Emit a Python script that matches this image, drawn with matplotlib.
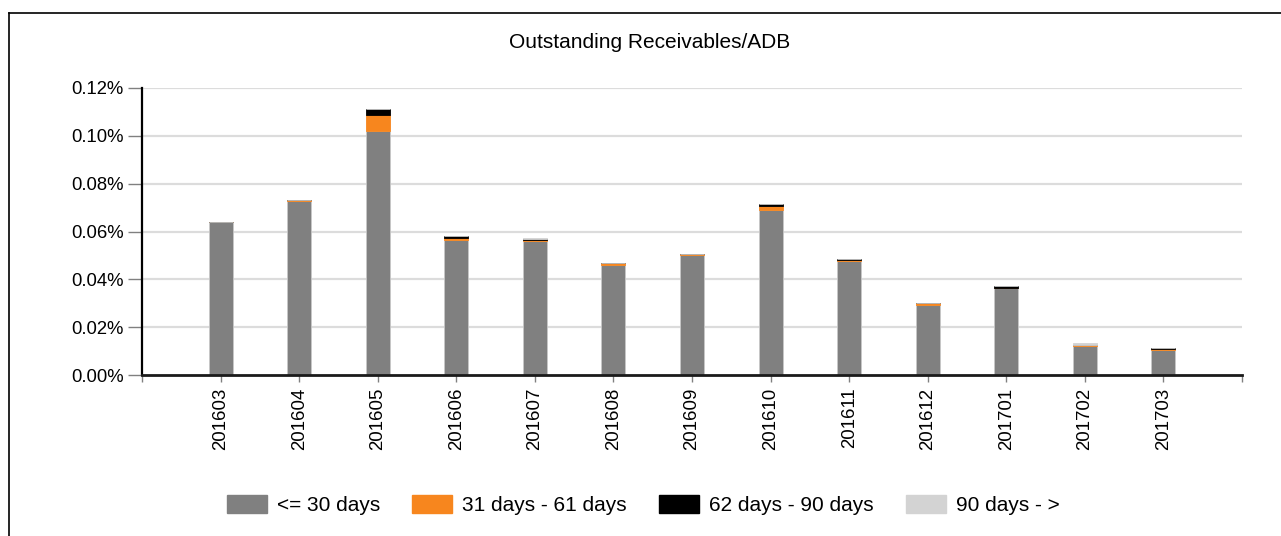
import matplotlib
matplotlib.use("Agg")
import matplotlib.pyplot as plt
from matplotlib.lines import Line2D
from matplotlib.patches import Patch
import numpy as np

plt.rcParams['font.family'] = ['Liberation Sans', 'DejaVu Sans']

months = ["201603", "201604", "201605", "201606", "201607", "201608", "201609",
          "201610", "201611", "201612", "201701", "201702", "201703"]
# values in percent
le30 = [0.0640, 0.0728, 0.1020, 0.0565, 0.0562, 0.0461, 0.0500, 0.0688, 0.0477, 0.0294, 0.0364, 0.0122, 0.0106]
d31_61 = [0.0000, 0.0004, 0.0067, 0.0008, 0.0004, 0.0006, 0.0004, 0.0020, 0.0005, 0.0007, 0.0000, 0.0003, 0.0002]
d62_90 = [0.0000, 0.0000, 0.0025, 0.0007, 0.0002, 0.0000, 0.0004, 0.0006, 0.0002, 0.0000, 0.0008, 0.0000, 0.0003]
d90p = [0.0000, 0.0000, 0.0000, 0.0000, 0.0003, 0.0000, 0.0000, 0.0000, 0.0000, 0.0000, 0.0000, 0.0007, 0.0000]
series_names = ["<= 30 days", "31 days - 61 days", "62 days - 90 days", "90 days - >"]
colors = ["#808080", "#f7861e", "#000000", "#d3d3d3"]
yticks = [0.00, 0.02, 0.04, 0.06, 0.08, 0.10, 0.12]
title = "Outstanding Receivables/ADB"

fig = plt.figure(figsize=(12.81, 5.36), dpi=100)
ax = fig.add_axes([142/1281, 1-375/536, 1100/1281, 287/536])

x = np.arange(1, len(months)+1)
bottom = np.zeros(len(months))
for vals, c in zip([le30, d31_61, d62_90, d90p], colors):
    v = np.array(vals)
    ax.bar(x, v, width=0.305, bottom=bottom, color=c, edgecolor="#c8c8c8" if c == "#808080" else c,
           linewidth=0.6, zorder=3)
    bottom += v

ax.set_xlim(0, len(months)+1)
ax.set_ylim(0, 0.12)
ax.set_yticks(yticks)
ax.set_yticklabels([f"{t:.2f}%" for t in yticks], fontsize=13.3)
ax.set_xticks(np.arange(0, len(months)+2))
ax.set_xticklabels([""] + months + [""], rotation=90, fontsize=13.4)
ax.tick_params(axis='y', direction='out', length=10, width=1, color="#808080", pad=3)
ax.tick_params(axis='x', direction='out', length=5, width=1, color="#808080", pad=4)
for t in yticks[1:]:
    ax.axhline(t, color="#dcdcdc", linewidth=1.6, zorder=1)
for s in ["top", "right"]:
    ax.spines[s].set_visible(False)
ax.spines["left"].set_linewidth(1.6)
ax.spines["left"].set_color("black")
ax.spines["bottom"].set_linewidth(2.0)
ax.spines["bottom"].set_color("#1a1a1a")
ax.spines["left"].set_zorder(4)
ax.spines["bottom"].set_zorder(4)

fig.text(650/1281, 1-43/536, title, ha="center", va="center", fontsize=15)

handles = [Patch(facecolor=c, edgecolor=c) for c in colors]
fig.legend(handles, series_names, loc="center", bbox_to_anchor=(643/1281, 1-505/536),
           ncol=4, frameon=False, fontsize=15, handlelength=1.92, handleheight=0.96,
           handletextpad=0.48, columnspacing=1.54)

# outer border
fig.add_artist(Line2D([9/1281, 9/1281], [0, 1-13/536], color="black", linewidth=1.2, transform=fig.transFigure))
fig.add_artist(Line2D([9/1281, 1], [1-13/536, 1-13/536], color="black", linewidth=1.2, transform=fig.transFigure))

fig.savefig("out.png", dpi=100)
